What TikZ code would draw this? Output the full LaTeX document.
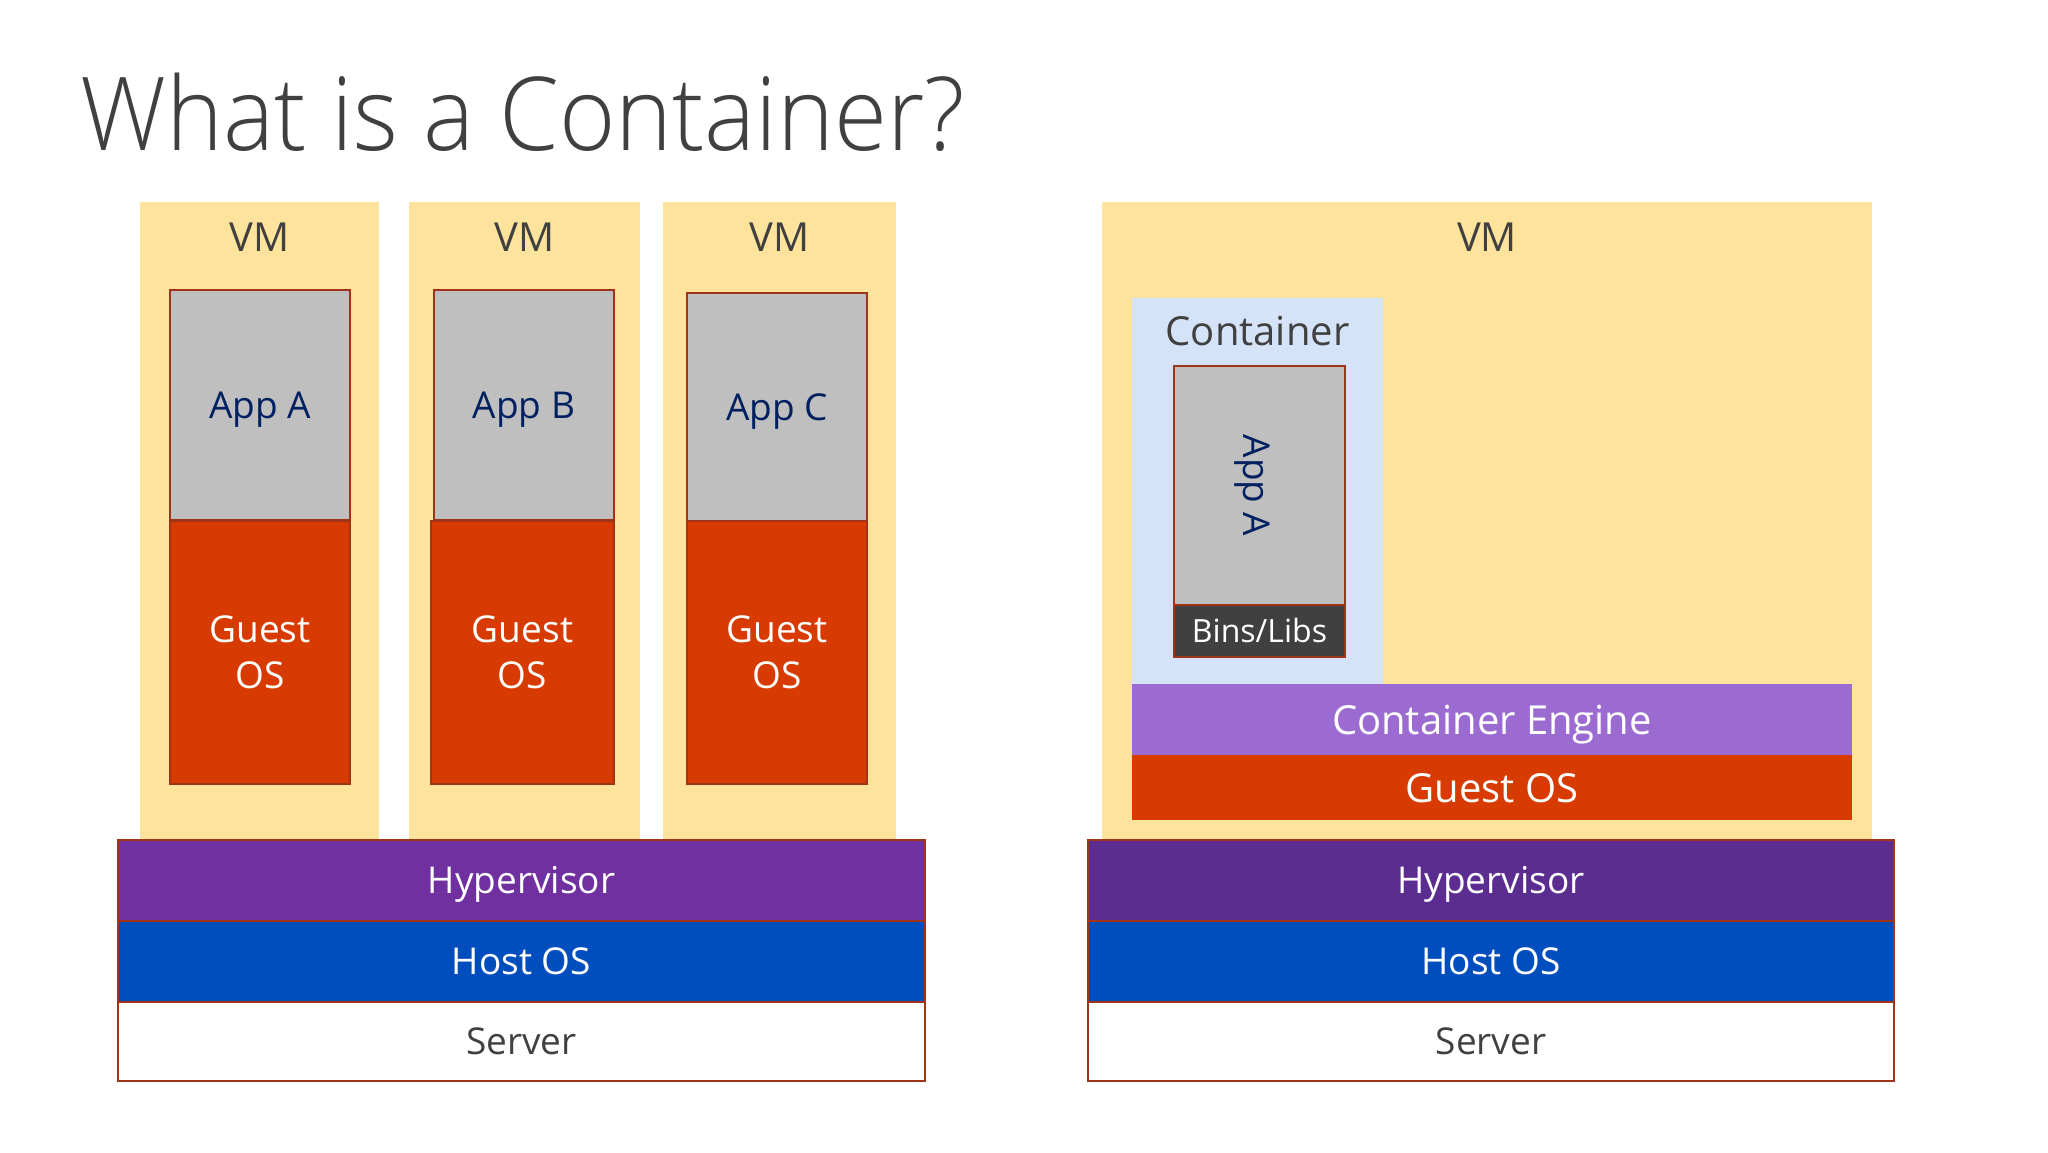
\documentclass[tikz,border=0pt]{standalone}
\usepackage{fontspec}
\setmainfont{Open Sans}
\newfontfamily\lightfont{Open Sans Light}
\definecolor{vmyellow}{HTML}{FDE39C}
\definecolor{appgray}{HTML}{BFBFBF}
\definecolor{guestred}{HTML}{D83B01}
\definecolor{hyperL}{HTML}{7030A0}
\definecolor{hyperR}{HTML}{5C2D91}
\definecolor{hostblue}{HTML}{004EBE}
\definecolor{contblue}{HTML}{D5E3F9}
\definecolor{engine}{HTML}{9B6BD1}
\definecolor{bins}{HTML}{404040}
\definecolor{bordred}{HTML}{A0341A}
\definecolor{navy}{HTML}{002060}
\definecolor{darktext}{HTML}{404040}
\tikzset{
  area/.style={anchor=north west, inner sep=0pt, outer sep=0pt, draw=none},
  box/.style={anchor=north west, inner sep=0pt, outer sep=0pt, draw=bordred, line width=1.5pt},
  bodytxt/.style={font=\fontsize{37}{46}\selectfont},
  capc/.style={text height=26.5pt, text depth=0pt},
  capbig/.style={text height=29pt, text depth=0pt},
  vmtxt/.style={font=\fontsize{40}{48}\selectfont, text=darktext},
}
\begin{document}
\begin{tikzpicture}[x=1pt,y=-1pt]
\useasboundingbox[fill=white] (0,0) rectangle (2048,1152);

% Title
\node[anchor=base west, inner sep=0pt, xscale=0.945, text=darktext, font=\lightfont\fontsize{102}{110}\selectfont] (title) at (80,150) {What is a Container?};

% ---------------- Left: VMs ----------------
\node[area, fill=vmyellow, minimum width=239, minimum height=638] (vm1) at (140,202) {};
\node[area, fill=vmyellow, minimum width=231, minimum height=638] (vm2) at (409,202) {};
\node[area, fill=vmyellow, minimum width=233, minimum height=638] (vm3) at (663,202) {};
\node[vmtxt] (vm1t) at (259.5,237) {VM};
\node[vmtxt] (vm2t) at (524.5,237) {VM};
\node[vmtxt] (vm3t) at (779.5,237) {VM};

\node[box, capc, fill=appgray, text=navy, bodytxt, minimum width=180, minimum height=230] (appa) at (170,290) {App A};
\node[box, capc, fill=appgray, text=navy, bodytxt, minimum width=180, minimum height=230] (appb) at (434,290) {App B};
\node[box, capc, fill=appgray, text=navy, bodytxt, minimum width=180, minimum height=228] (appc) at (687,293) {App C};

\node[box, align=center, fill=guestred, text=white, bodytxt, minimum width=180, minimum height=263] (goa) at (170,521) {Guest\\OS};
\node[box, align=center, fill=guestred, text=white, bodytxt, minimum width=183, minimum height=263] (gob) at (431,521) {Guest\\OS};
\node[box, align=center, fill=guestred, text=white, bodytxt, minimum width=180, minimum height=263] (goc) at (687,521) {Guest\\OS};

\node[box, capc, fill=hyperL, text=white, bodytxt, minimum width=807, minimum height=81] (hypL) at (118,840) {Hypervisor};
\node[box, capc, fill=hostblue, text=white, bodytxt, minimum width=807, minimum height=81] (hostL) at (118,921) {Host OS};
\node[box, capc, fill=white, text=darktext, bodytxt, minimum width=807, minimum height=79] (servL) at (118,1002) {Server};

% ---------------- Right: containers ----------------
\node[area, fill=vmyellow, minimum width=770, minimum height=638] (vmR) at (1102,202) {};
\node[vmtxt] (vmRt) at (1487,237) {VM};

\node[area, fill=contblue, minimum width=251, minimum height=386] (cont) at (1132,298) {};
\node[vmtxt] (contt) at (1257.5,331) {Container};

\node[box, fill=appgray, minimum width=171, minimum height=239] (appR) at (1174,366) {};
\node[text=navy, bodytxt, capc, rotate=-90] (appRt) at ([xshift=-3pt]appR.center) {App A};
\node[box, fill=bins, text=white, text height=23pt, text depth=0pt, font=\fontsize{32}{38}\selectfont, minimum width=171, minimum height=52] (binsR) at (1174,605) {Bins/Libs};

\node[area, capbig, fill=engine, text=white, font=\fontsize{40}{48}\selectfont, minimum width=720, minimum height=71] (engR) at (1132,684) {Container Engine};
\node[area, capbig, fill=guestred, text=white, font=\fontsize{40}{48}\selectfont, minimum width=720, minimum height=65] (goR) at (1132,755) {Guest OS};

\node[box, capc, fill=hyperR, text=white, bodytxt, minimum width=806, minimum height=81] (hypR) at (1088,840) {Hypervisor};
\node[box, capc, fill=hostblue, text=white, bodytxt, minimum width=806, minimum height=81] (hostR) at (1088,921) {Host OS};
\node[box, capc, fill=white, text=darktext, bodytxt, minimum width=806, minimum height=79] (servR) at (1088,1002) {Server};
\end{tikzpicture}
\end{document}
